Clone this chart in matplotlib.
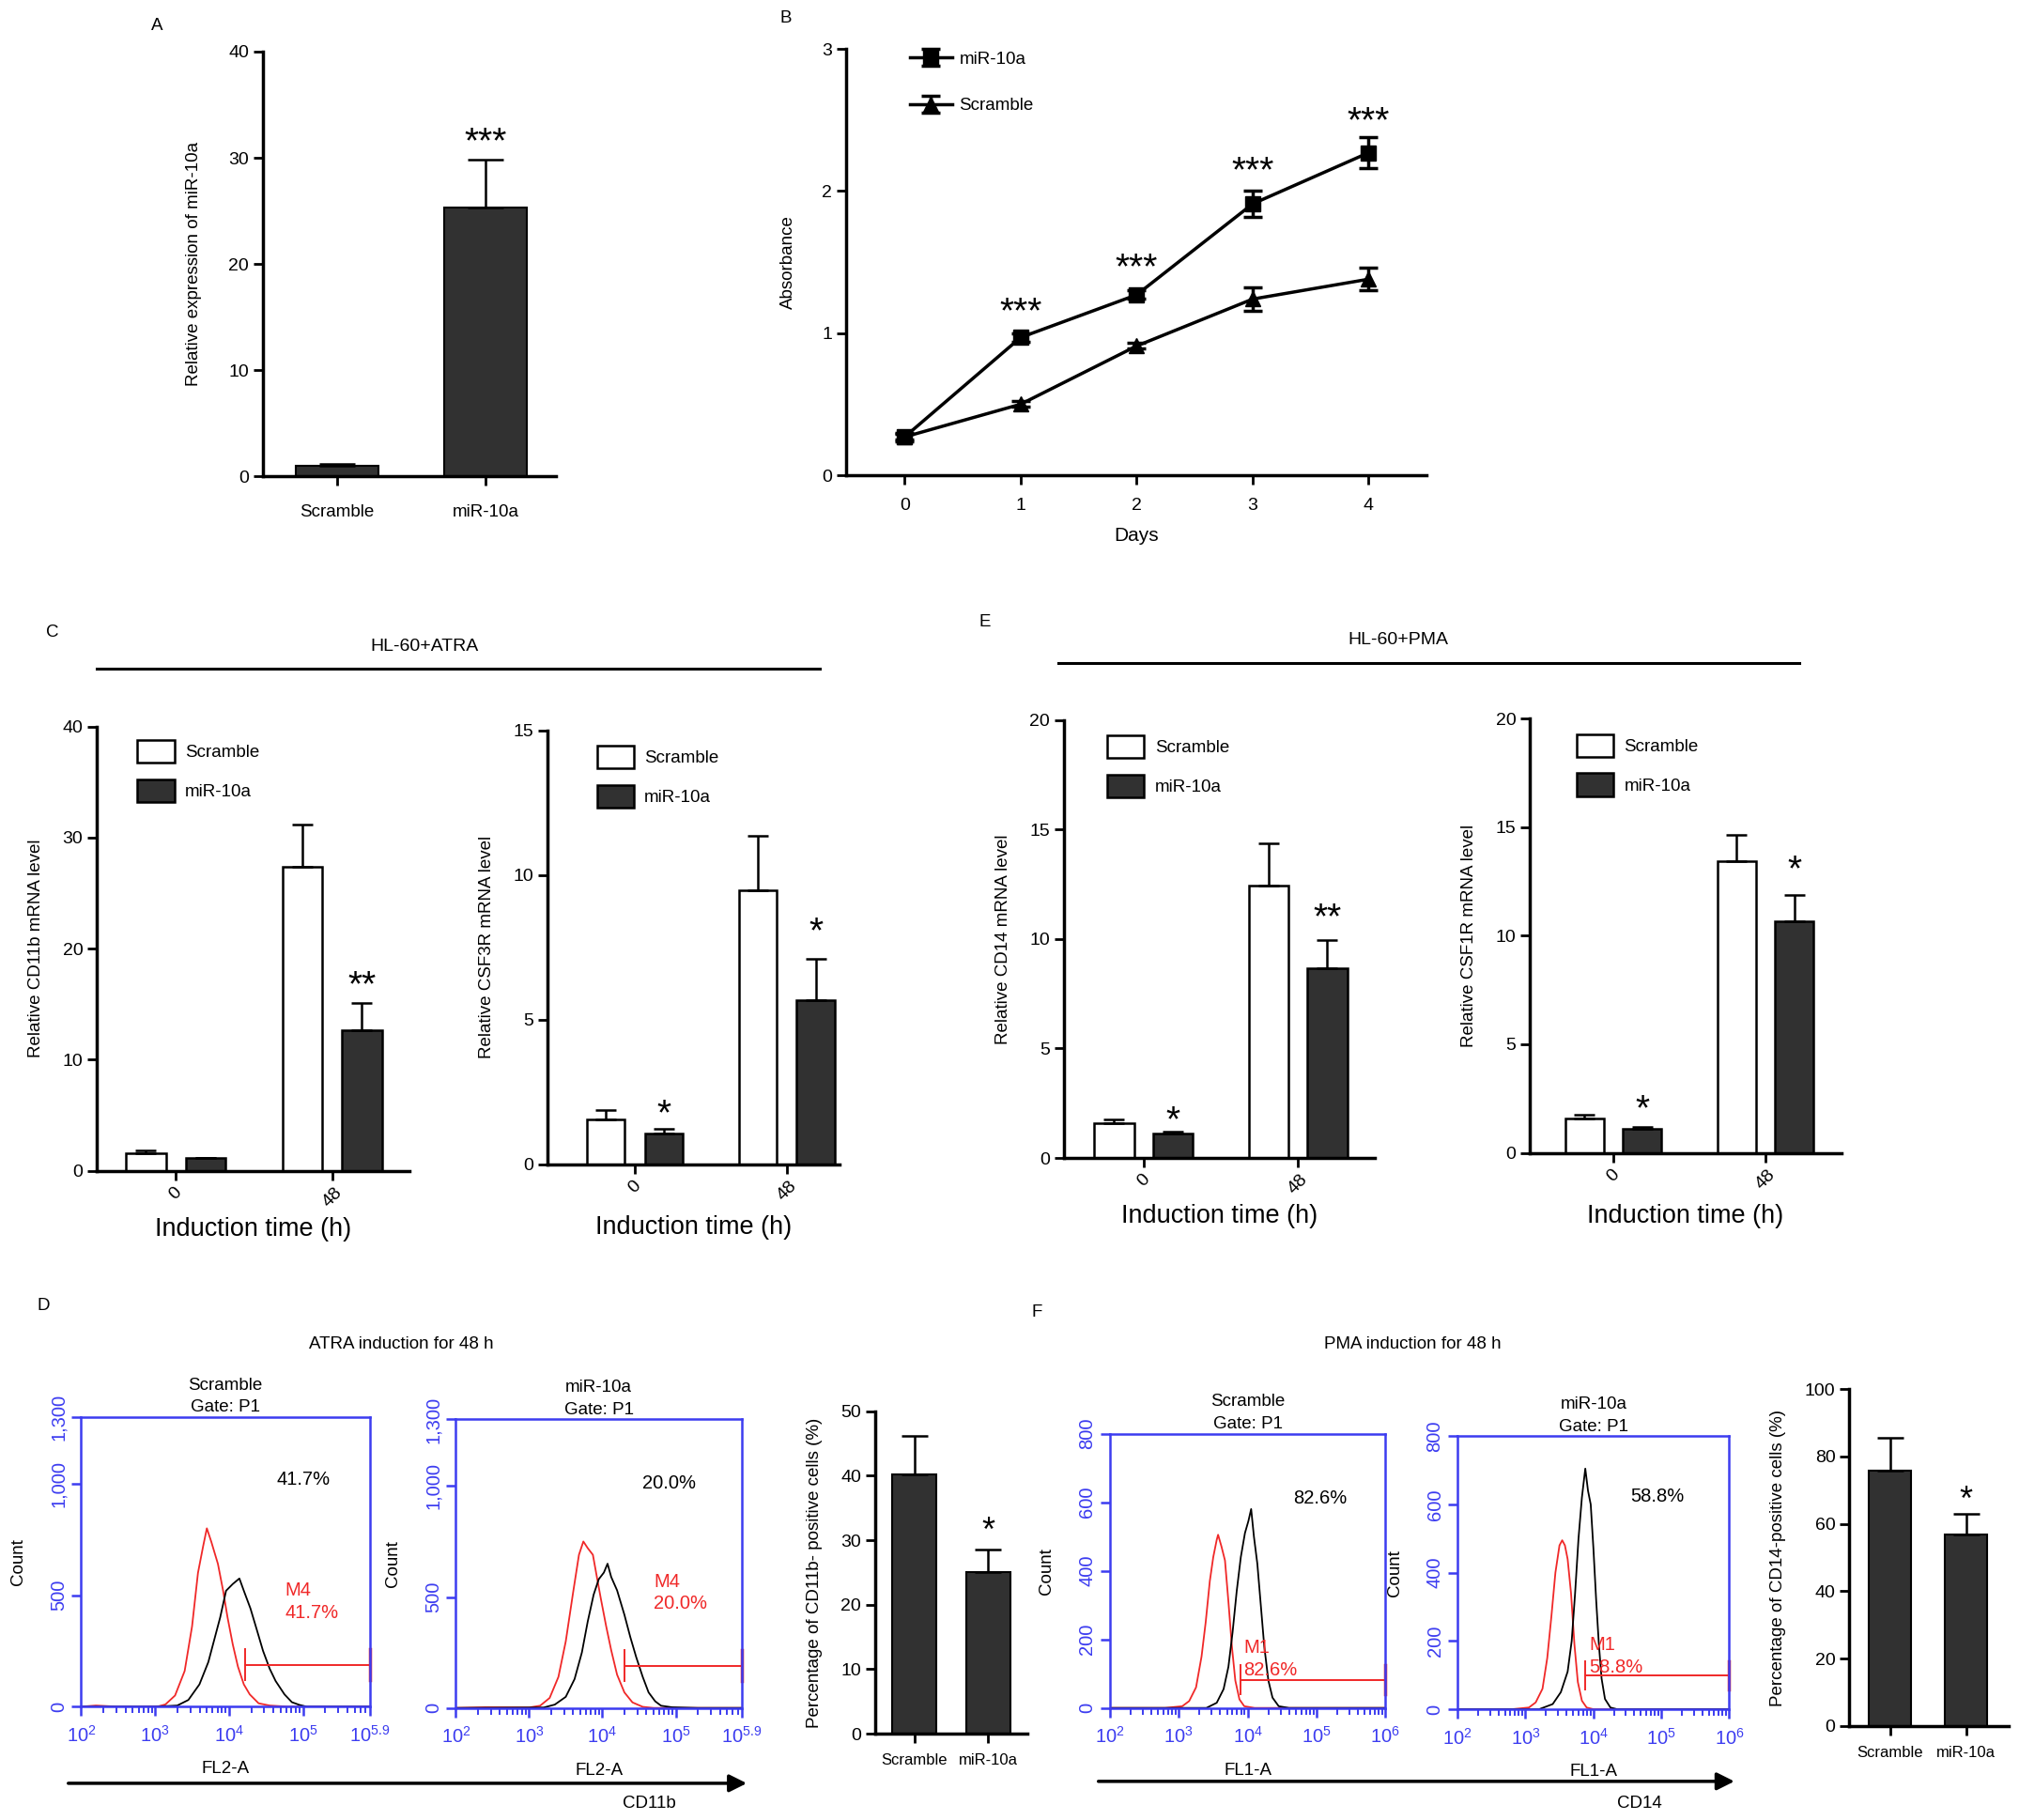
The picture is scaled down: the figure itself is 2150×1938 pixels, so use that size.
import matplotlib.pyplot as plt
import numpy as np
from matplotlib.patches import Patch, FancyArrowPatch
from matplotlib.lines import Line2D
from matplotlib.ticker import LogLocator, NullFormatter

plt.rcParams['font.family'] = ['Liberation Sans', 'DejaVu Sans']

# layout grid measured on the reference (scaled copy, 1568 x 1413)
W, H = 1568.0, 1413.0

# ---- A ----
a_groups = ['Scramble', 'miR-10a']
a_vals = [1.0, 25.3]
a_err = [0.15, 4.5]

# ---- B ----
days = [0, 1, 2, 3, 4]
b_mir = [0.27, 0.97, 1.27, 1.91, 2.27]
b_mir_err = [0.03, 0.03, 0.03, 0.09, 0.11]
b_scr = [0.27, 0.50, 0.91, 1.24, 1.38]
b_scr_err = [0.02, 0.02, 0.02, 0.08, 0.08]
b_star_y = [1.22, 1.53, 2.21, 2.56]

# ---- C / E ----
times = ['0', '48']
cd11b_scr, cd11b_scr_err = [1.58, 27.4], [0.23, 3.8]
cd11b_mir, cd11b_mir_err = [1.13, 12.7], [0.03, 2.4]
csf3r_scr, csf3r_scr_err = [1.57, 9.46], [0.30, 1.89]
csf3r_mir, csf3r_mir_err = [1.07, 5.67], [0.15, 1.44]
cd14_scr, cd14_scr_err = [1.57, 12.46], [0.19, 1.91]
cd14_mir, cd14_mir_err = [1.11, 8.65], [0.09, 1.32]
csf1r_scr, csf1r_scr_err = [1.57, 13.43], [0.19, 1.24]
csf1r_mir, csf1r_mir_err = [1.12, 10.67], [0.06, 1.23]

# ---- D / F bars ----
d_vals, d_err = [40.2, 25.05], [6.0, 3.45]
f_vals, f_err = [75.8, 56.8], [9.9, 6.1]

# ---- flow histograms (log10 intensity, count) ----
atra_scr_red_x = [2.0, 2.2, 2.5, 2.8, 3.05, 3.14, 3.27, 3.40, 3.50, 3.58, 3.65, 3.70, 3.76, 3.85, 3.92, 3.98, 4.05, 4.12, 4.20, 4.28, 4.40, 4.55, 4.8, 5.2, 5.9]
atra_scr_red_y = [0, 5, 0, 0, 2, 10, 50, 160, 360, 600, 720, 800, 740, 640, 520, 400, 280, 180, 100, 55, 15, 5, 0, 0, 0]
atra_scr_blk_x = [2.0, 3.0, 3.30, 3.45, 3.60, 3.72, 3.80, 3.88, 3.96, 4.05, 4.14, 4.20, 4.29, 4.38, 4.46, 4.55, 4.63, 4.75, 4.85, 4.95, 5.05, 5.9]
atra_scr_blk_y = [0, 0, 5, 30, 100, 200, 300, 400, 520, 550, 575, 520, 440, 340, 250, 170, 115, 55, 20, 8, 0, 0]
atra_mir_red_x = [2.0, 2.4, 3.0, 3.15, 3.28, 3.40, 3.50, 3.60, 3.68, 3.74, 3.80, 3.87, 3.93, 3.98, 4.05, 4.12, 4.20, 4.30, 4.41, 4.55, 4.7, 5.9]
atra_mir_red_y = [0, 3, 2, 10, 45, 140, 300, 520, 690, 750, 720, 690, 580, 490, 370, 260, 150, 70, 25, 5, 0, 0]
atra_mir_blk_x = [2.0, 3.2, 3.35, 3.50, 3.62, 3.72, 3.80, 3.88, 3.95, 4.02, 4.07, 4.12, 4.20, 4.30, 4.38, 4.46, 4.55, 4.63, 4.72, 4.80, 4.95, 5.3, 5.9]
atra_mir_blk_y = [0, 2, 15, 50, 130, 250, 390, 510, 580, 610, 650, 590, 530, 420, 320, 230, 140, 70, 30, 10, 3, 0, 0]
pma_scr_red_x = [2.0, 2.8, 3.05, 3.15, 3.25, 3.33, 3.39, 3.45, 3.50, 3.55, 3.57, 3.62, 3.67, 3.72, 3.77, 3.82, 3.88, 3.95, 4.1, 6.0]
pma_scr_red_y = [0, 0, 5, 20, 60, 150, 250, 370, 440, 490, 505, 470, 430, 310, 180, 80, 25, 5, 0, 0]
pma_scr_blk_x = [2.0, 3.4, 3.55, 3.65, 3.72, 3.78, 3.84, 3.90, 3.96, 4.01, 4.05, 4.09, 4.14, 4.19, 4.24, 4.30, 4.36, 4.45, 4.6, 6.0]
pma_scr_blk_y = [0, 0, 15, 55, 120, 220, 340, 440, 510, 545, 580, 500, 420, 300, 180, 80, 30, 5, 0, 0]
pma_mir_red_x = [2.0, 2.8, 3.05, 3.15, 3.25, 3.32, 3.38, 3.44, 3.50, 3.54, 3.58, 3.62, 3.67, 3.72, 3.77, 3.83, 3.90, 4.0, 6.0]
pma_mir_red_y = [0, 0, 5, 20, 60, 150, 270, 400, 480, 495, 480, 440, 340, 190, 80, 25, 5, 0, 0]
pma_mir_blk_x = [2.0, 3.2, 3.40, 3.52, 3.62, 3.68, 3.73, 3.78, 3.83, 3.88, 3.92, 3.96, 4.00, 4.04, 4.08, 4.12, 4.17, 4.25, 4.35, 6.0]
pma_mir_blk_y = [0, 0, 15, 50, 110, 200, 340, 500, 620, 705, 640, 600, 470, 320, 190, 90, 30, 5, 0, 0]

dark = '#313131'
blue = '#3c3cf0'
red = '#f02828'
fs_small = 13.5

fig = plt.figure(figsize=(21.5, 19.38), dpi=100)


def add_ax(l, r, t, b):
    return fig.add_axes([l / W, 1 - b / H, (r - l) / W, (b - t) / H])


def ftext(x, y, s, **kw):
    kw.setdefault('ha', 'center')
    kw.setdefault('va', 'center')
    kw.setdefault('fontsize', fs_small)
    fig.text(x / W, 1 - y / H, s, **kw)


def prism(ax):
    for side in ['top', 'right']:
        ax.spines[side].set_visible(False)
    for side in ['left', 'bottom']:
        ax.spines[side].set_linewidth(2.5)
    ax.tick_params(direction='out', width=2, length=7, labelsize=14)


def star(ax, x, y, s, fs=28):
    ax.annotate(s, (x, y), xytext=(0, -0.55 * fs), textcoords='offset points',
                ha='center', va='baseline', fontsize=fs)


def upper_err(ax, x, v, e, cap=8):
    ax.errorbar(x, v, yerr=[np.zeros(len(v)), e], fmt='none', ecolor='black',
                elinewidth=1.8, capsize=cap, capthick=1.8)


# ================= A =================
ax = add_ax(204, 432, 40, 370)
prism(ax)
xa = np.arange(2)
ax.bar(xa, a_vals, 0.56, color=dark, edgecolor='black', lw=1.5)
upper_err(ax, xa, a_vals, a_err, cap=14)
ax.set_xlim(-0.504, 1.478)
ax.set_ylim(0, 40)
ax.set_yticks([0, 10, 20, 30, 40])
ax.set_xticks(xa)
ax.set_xticklabels(a_groups, fontsize=fs_small)
ax.tick_params(axis='x', pad=14)
ax.set_ylabel('Relative expression of miR-10a', fontsize=fs_small, labelpad=20)
star(ax, 1, 32.4, '***')

# ================= B =================
ax = add_ax(657, 1108, 38, 369)
prism(ax)
ax.errorbar(days, b_mir, yerr=b_mir_err, color='black', lw=2.5, marker='s', ms=12,
            capsize=7, capthick=2.5, elinewidth=2.5, label='miR-10a')
ax.errorbar(days, b_scr, yerr=b_scr_err, color='black', lw=2.5, marker='^', ms=12,
            capsize=7, capthick=2.5, elinewidth=2.5, label='Scramble')
ax.set_xlim(-0.506, 4.5)
ax.set_ylim(0, 3)
ax.set_xticks(days)
ax.set_yticks([0, 1, 2, 3])
ax.tick_params(axis='x', pad=10)
ax.set_xlabel('Days', fontsize=15, labelpad=10)
ax.set_ylabel('Absorbance', fontsize=fs_small, labelpad=20)
for d, y in zip(days[1:], b_star_y):
    star(ax, d, y, '***')
hs, ls = ax.get_legend_handles_labels()
ax.legend(hs, ls, loc='upper left', bbox_to_anchor=(0.11, 0.995), frameon=False,
          fontsize=fs_small, handlelength=2.4, labelspacing=1.75, borderaxespad=0,
          borderpad=0, handletextpad=0.4)


# ================= C / E =================
def grouped(rect, xlim, scr, scr_err, mir, mir_err, ylim, yticks, ylabel,
            width, off, stars, leg_at, xlab_pad):
    ax = add_ax(*rect)
    prism(ax)
    x = np.arange(len(times))
    ax.bar(x - off, scr, width, color='white', edgecolor='black', lw=1.8, label='Scramble')
    ax.bar(x + off, mir, width, color=dark, edgecolor='black', lw=1.8, label='miR-10a')
    upper_err(ax, x - off, scr, scr_err)
    upper_err(ax, x + off, mir, mir_err)
    ax.set_xlim(*xlim)
    ax.set_ylim(0, ylim)
    ax.set_yticks(yticks)
    ax.set_xticks(x)
    ax.set_xticklabels(times, rotation=45, ha='center', fontsize=14)
    ax.set_xlabel('Induction time (h)', fontsize=19.5, labelpad=xlab_pad)
    ax.set_ylabel(ylabel, fontsize=fs_small, labelpad=14)
    for xi, yi, s in stars:
        star(ax, xi + off, yi, s)
    hs = [Patch(facecolor='white', edgecolor='black', lw=1.8),
          Patch(facecolor=dark, edgecolor='black', lw=1.8)]
    ax.legend(hs, ['Scramble', 'miR-10a'], loc='upper left', bbox_to_anchor=leg_at,
              frameon=False, fontsize=fs_small, handlelength=2.1, handleheight=1.6,
              labelspacing=0.95, handletextpad=0.6, borderaxespad=0, borderpad=0)
    return ax


grouped((75, 318, 564, 909), (-0.506, 1.494), cd11b_scr, cd11b_scr_err, cd11b_mir,
        cd11b_mir_err, 40, [0, 10, 20, 30, 40], 'Relative CD11b mRNA level',
        0.255, 0.19, [(1, 17.6, '**')], (0.13, 0.97), 5)
grouped((425, 652, 567, 904), (-0.576, 1.347), csf3r_scr, csf3r_scr_err, csf3r_mir,
        csf3r_mir_err, 15, [0, 5, 10, 15], 'Relative CSF3R mRNA level',
        0.25, 0.19, [(0, 2.07, '*'), (1, 8.37, '*')], (0.17, 0.965), 9)
grouped((826, 1068, 559, 899), (-0.517, 1.5), cd14_scr, cd14_scr_err, cd14_mir,
        cd14_mir_err, 20, [0, 5, 10, 15, 20], 'Relative CD14 mRNA level',
        0.258, 0.19, [(0, 2.17, '*'), (1, 11.4, '**')], (0.14, 0.965), 5)
grouped((1188, 1430, 558, 895), (-0.55, 1.5), csf1r_scr, csf1r_scr_err, csf1r_mir,
        csf1r_mir_err, 20, [0, 5, 10, 15, 20], 'Relative CSF1R mRNA level',
        0.254, 0.19, [(0, 2.43, '*'), (1, 13.5, '*')], (0.15, 0.965), 9)


# ================= flow histograms =================
def flow(rect, rx, ry, bx, by, xmax, xmax_lab, ymax, yticks, ylabs, gate,
         title, pct, pct_xy, mtxt, m_xy, xlabel):
    ax = add_ax(*rect)
    ax.plot(10 ** np.array(rx), ry, color=red, lw=1.3)
    ax.plot(10 ** np.array(bx), by, color='black', lw=1.3)
    ax.set_xscale('log')
    ax.set_xlim(1e2, 10 ** xmax)
    ax.set_ylim(0, ymax)
    for s in ax.spines.values():
        s.set_color(blue)
        s.set_linewidth(1.8)
    ax.set_xticks([1e2, 1e3, 1e4, 1e5, 10 ** xmax])
    ax.set_xticklabels([r'$\mathregular{10^{2}}$', r'$\mathregular{10^{3}}$',
                        r'$\mathregular{10^{4}}$', r'$\mathregular{10^{5}}$', xmax_lab])
    ax.xaxis.set_minor_locator(LogLocator(base=10, subs=np.arange(2, 10)))
    ax.xaxis.set_minor_formatter(NullFormatter())
    ax.set_yticks(yticks)
    ax.set_yticklabels(ylabs, rotation=90, va='center')
    ax.tick_params(colors=blue, labelcolor=blue, labelsize=14.5, width=1.8, length=7)
    ax.tick_params(axis='x', which='minor', colors=blue, width=1.4, length=5)
    ax.tick_params(axis='x', pad=7)
    g0, gy, gh = gate
    ax.plot([10 ** g0, 10 ** xmax], [gy, gy], color=red, lw=1.4, clip_on=False)
    ax.plot([10 ** g0] * 2, [gy - gh, gy + gh], color=red, lw=1.4)
    ax.plot([10 ** xmax] * 2, [gy - gh, gy + gh], color=red, lw=2.5, clip_on=False)
    ax.set_title(title, fontsize=fs_small, linespacing=1.5, pad=4)
    ax.text(10 ** pct_xy[0], pct_xy[1], pct, fontsize=14.5, ha='center', va='center')
    ax.text(10 ** m_xy[0], m_xy[1], mtxt, fontsize=14.5, color=red, ha='left',
            va='center', linespacing=1.3)
    ax.set_ylabel('Count', fontsize=fs_small, labelpad=18)
    ax.set_xlabel(xlabel, fontsize=fs_small, labelpad=12)
    return ax


atra_y = [0, 500, 1000, 1300]
atra_ylab = ['0', '500', '1,000', '1,300']
pma_y = [0, 200, 400, 600, 800]
pma_ylab = ['0', '200', '400', '600', '800']
lab59 = r'$\mathregular{10^{5.9}}$'
lab6 = r'$\mathregular{10^{6}}$'

flow((63, 287, 1100, 1325), atra_scr_red_x, atra_scr_red_y, atra_scr_blk_x, atra_scr_blk_y,
     5.9, lab59, 1300, atra_y, atra_ylab, (4.22, 188, 70), 'Scramble\nGate: P1',
     '41.7%', (5.0, 1018), 'M4\n41.7%', (4.76, 470), 'FL2-A')
flow((354, 576, 1102, 1326), atra_mir_red_x, atra_mir_red_y, atra_mir_blk_x, atra_mir_blk_y,
     5.9, lab59, 1300, atra_y, atra_ylab, (4.30, 190, 70), 'miR-10a\nGate: P1',
     '20.0%', (4.91, 1014), 'M4\n20.0%', (4.70, 520), 'FL2-A')
flow((862, 1076, 1113, 1326), pma_scr_red_x, pma_scr_red_y, pma_scr_blk_x, pma_scr_blk_y,
     6.0, lab6, 800, pma_y, pma_ylab, (3.89, 82, 42), 'Scramble\nGate: P1',
     '82.6%', (5.05, 610), 'M1\n82.6%', (3.94, 143), 'FL1-A')
flow((1132, 1343, 1115, 1327), pma_mir_red_x, pma_mir_red_y, pma_mir_blk_x, pma_mir_blk_y,
     6.0, lab6, 800, pma_y, pma_ylab, (3.88, 99, 42), 'miR-10a\nGate: P1',
     '58.8%', (4.94, 622), 'M1\n58.8%', (3.94, 155), 'FL1-A')


# ================= D / F summary bars =================
def summary(rect, xlim, vals, err, ylim, yticks, ylabel, width, star_y):
    ax = add_ax(*rect)
    prism(ax)
    x = np.arange(2)
    ax.bar(x, vals, width, color=dark, edgecolor='black', lw=1.5)
    upper_err(ax, x, vals, err, cap=10)
    ax.set_xlim(*xlim)
    ax.set_ylim(0, ylim)
    ax.set_yticks(yticks)
    ax.set_xticks(x)
    ax.set_xticklabels(a_groups, fontsize=12)
    ax.tick_params(axis='x', pad=8)
    ax.set_ylabel(ylabel, fontsize=fs_small, labelpad=14)
    star(ax, 1, star_y, '*', fs=26)


summary((679.5, 798, 1095.6, 1346), (-0.53, 1.53), d_vals, d_err, 50,
        [0, 10, 20, 30, 40, 50], 'Percentage of CD11b- positive cells (%)', 0.59, 32.8)
summary((1436, 1560, 1078.5, 1340), (-0.54, 1.56), f_vals, f_err, 100,
        [0, 20, 40, 60, 80, 100], 'Percentage of CD14-positive cells (%)', 0.55, 69.7)

# ================= figure-level labels =================
for s, x, y in [('A', 122, 20), ('B', 610, 14), ('C', 41, 491), ('E', 765, 483),
                ('D', 34, 1014), ('F', 805, 1019)]:
    ftext(x, y, s)

ftext(330, 502, 'HL-60+ATRA', fontsize=14)
fig.add_artist(Line2D([75 / W, 636.5 / W], [1 - 519 / H] * 2, color='black', lw=2.2))
ftext(1086, 497, 'HL-60+PMA', fontsize=14)
fig.add_artist(Line2D([822 / W, 1397 / W], [1 - 515 / H] * 2, color='black', lw=2.2))

ftext(312, 1044, 'ATRA induction for 48 h')
ftext(1097, 1044, 'PMA induction for 48 h')

fig.add_artist(FancyArrowPatch((51 / W, 1 - 1384.5 / H), (582 / W, 1 - 1384.5 / H),
                               transform=fig.transFigure, arrowstyle='-|>',
                               mutation_scale=28, lw=2.5, color='black'))
fig.add_artist(FancyArrowPatch((851 / W, 1 - 1383 / H), (1349 / W, 1 - 1383 / H),
                               transform=fig.transFigure, arrowstyle='-|>',
                               mutation_scale=28, lw=2.5, color='black'))
ftext(504, 1400, 'CD11b')
ftext(1273, 1400, 'CD14')

fig.savefig('out.png', dpi=100, facecolor='white')
